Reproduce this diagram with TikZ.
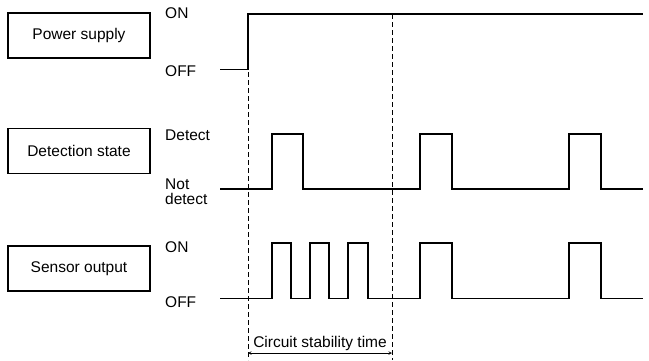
\documentclass[tikz,border=0pt]{standalone}
\usepackage{fontspec}
\setmainfont{Liberation Sans}
\usetikzlibrary{arrows}

\begin{document}
\begin{tikzpicture}[x=1pt, y=-1pt,
font=\fontsize{15.5}{15}\selectfont,
box/.style = {draw, line width=1.1pt, minimum width=142pt, minimum height=45pt, inner sep=0pt},
lvl/.style = {anchor=west, inner sep=0pt, align=left},
wave/.style = {line width=1.3pt},
guide/.style = {line width=0.7pt, dash pattern=on 5pt off 3pt}]
\useasboundingbox (0,0) rectangle (649,360);
\node[box] (pwr) at (79,35.5) {Power supply};
\node[box] (det) at (79,151) {Detection state};
\node[box] (sens) at (79,268.5) {Sensor output};
\node[lvl] (pwron) at (165,13) {ON};
\node[lvl] (pwroff) at (165,71) {OFF};
\node[lvl] (detyes) at (165,135.5) {Detect};
\node[lvl] (detno) at (165,192) {Not\\detect};
\node[lvl] (senson) at (165,247.5) {ON};
\node[lvl] (sensoff) at (165,302) {OFF};
\draw[wave] (220,69.5) -- (248,69.5) -- (248,14) -- (643,14);
\draw[wave] (220,189) -| (272,134) -| (303,189) -| (420,134) -| (452,189)
    -| (569,134) -| (601,189) -- (643,189);
\draw[wave] (220,298.5) -| (272,243) -| (291,298.5) -| (310,243) -| (329,298.5)
    -| (348,243) -| (368,298.5) -| (420,243) -| (452,298.5) -| (569,243)
    -| (601,298.5) -- (643,298.5);
\coordinate (t0) at (248,353);
\coordinate (t1) at (392,353);
\draw[guide] (248,72) -- (248,360);
\draw[guide] (392,14) -- (392,360);
\draw[<->, >=stealth, line width=0.6pt] (t0) -- (t1);
\node[anchor=base, inner sep=0pt] (stab) at (320,347) {Circuit stability time};
\end{tikzpicture}
\end{document}
